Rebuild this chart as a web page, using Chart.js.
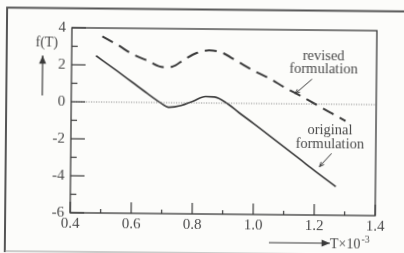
<!DOCTYPE html>
<html>
<head>
<meta charset="utf-8">
<script src="https://cdn.jsdelivr.net/npm/chart.js@4.4.1/dist/chart.umd.min.js"></script>
<style>
  html, body { margin: 0; padding: 0; background: #fcfcfa; overflow: hidden; width: 404px; height: 253px; }
  #wrap { position: absolute; left: -12px; top: -12px; width: 428px; height: 277px;
          transform: rotate(0.55deg); transform-origin: 50% 50%; }
</style>
</head>
<body>
<div id="wrap"><canvas id="chart" width="428" height="277"></canvas></div>
<script>
// original formulation (solid)
const origT = [0.48, 0.55, 0.60, 0.65, 0.69, 0.72, 0.76, 0.80, 0.84, 0.87, 0.91, 0.95, 1.00, 1.05, 1.10, 1.15, 1.20, 1.27];
const origF = [2.5, 1.68, 1.08, 0.48, 0.02, -0.25, -0.15, 0.1, 0.35, 0.33, 0.0, -0.5, -1.1, -1.72, -2.35, -2.97, -3.6, -4.45];
// revised formulation (dashed)
const revT = [0.50, 0.55, 0.60, 0.65, 0.70, 0.73, 0.77, 0.81, 0.85, 0.89, 0.94, 1.00, 1.05, 1.10, 1.15, 1.20, 1.25, 1.30];
const revF = [3.55, 3.1, 2.6, 2.25, 1.92, 1.95, 2.35, 2.7, 2.85, 2.75, 2.3, 1.75, 1.35, 0.88, 0.45, 0.0, -0.45, -0.9];
// axis ranges
const xMin = 0.4, xMax = 1.4;
const yMin = -6, yMax = 4;

const OFF = 12; // canvas is a bit larger than the page so its rotated edges stay hidden
const ink = '#3a3a3a';
const textCol = '#4a4a4a';
const serif = "'Liberation Serif', 'DejaVu Serif', serif";

function pts(xs, ys) {
    return xs.map((x, i) => ({ x: x, y: ys[i] }));
}

function arrowLine(ctx, x1, y1, x2, y2, filled, size) {
    ctx.beginPath();
    ctx.moveTo(x1, y1);
    ctx.lineTo(x2, y2);
    ctx.stroke();
    const a = Math.atan2(y2 - y1, x2 - x1);
    const p1 = [x2 - size * Math.cos(a - 0.4), y2 - size * Math.sin(a - 0.4)];
    const p2 = [x2 - size * Math.cos(a + 0.4), y2 - size * Math.sin(a + 0.4)];
    ctx.beginPath();
    if (filled) {
        ctx.moveTo(x2, y2);
        ctx.lineTo(p1[0], p1[1]);
        ctx.lineTo(p2[0], p2[1]);
        ctx.closePath();
        ctx.fill();
    } else {
        ctx.moveTo(p1[0], p1[1]);
        ctx.lineTo(x2, y2);
        ctx.lineTo(p2[0], p2[1]);
        ctx.stroke();
    }
}

const decor = {
    id: 'decor',
    beforeDraw(chart) {
        const ctx = chart.ctx;
        ctx.save();
        ctx.fillStyle = '#fcfcfa';
        ctx.fillRect(0, 0, chart.width, chart.height);
        // outer frame of the figure
        ctx.strokeStyle = '#555';
        ctx.lineWidth = 2;
        ctx.beginPath();
        ctx.moveTo(OFF + 6, OFF + 254);
        ctx.lineTo(OFF + 6, OFF + 9.5);
        ctx.lineTo(chart.width, OFF + 9.5);
        ctx.stroke();
        ctx.strokeStyle = '#999';
        ctx.lineWidth = 1.2;
        ctx.beginPath();
        ctx.moveTo(OFF + 6, OFF + 253);
        ctx.lineTo(chart.width, OFF + 253);
        ctx.stroke();
        ctx.restore();
    },
    afterDatasetsDraw(chart) {
        const ctx = chart.ctx;
        const a = chart.chartArea;
        const xs = chart.scales.x, ys = chart.scales.y;
        ctx.save();

        // dotted zero line
        ctx.strokeStyle = '#808080';
        ctx.lineWidth = 1;
        ctx.setLineDash([1, 1.5]);
        const y0 = ys.getPixelForValue(0);
        ctx.beginPath();
        ctx.moveTo(a.left, y0);
        ctx.lineTo(a.right, y0);
        ctx.stroke();
        ctx.setLineDash([]);

        // plot box
        ctx.strokeStyle = ink;
        ctx.lineWidth = 1.3;
        ctx.strokeRect(a.left, a.top, a.right - a.left, a.bottom - a.top);

        // inward ticks
        ctx.lineWidth = 1.2;
        for (let v = yMin; v <= yMax; v++) {
            const py = ys.getPixelForValue(v);
            const len = v % 2 === 0 ? 14 : 6;
            ctx.beginPath();
            ctx.moveTo(a.left, py);
            ctx.lineTo(a.left + len, py);
            ctx.stroke();
        }
        for (let k = 4; k <= 14; k++) {
            const px = xs.getPixelForValue(k / 10);
            const len = k % 2 === 0 ? 11 : 4;
            ctx.beginPath();
            ctx.moveTo(px, a.bottom);
            ctx.lineTo(px, a.bottom - len);
            ctx.stroke();
        }

        // annotations
        ctx.fillStyle = textCol;
        ctx.strokeStyle = ink;
        ctx.font = '14.5px ' + serif;
        ctx.textAlign = 'center';
        ctx.textBaseline = 'middle';
        ctx.fillText('revised', xs.getPixelForValue(1.226), ys.getPixelForValue(2.6));
        ctx.fillText('formulation', xs.getPixelForValue(1.226), ys.getPixelForValue(1.88));
        ctx.fillText('original', xs.getPixelForValue(1.249), ys.getPixelForValue(-1.43));
        ctx.fillText('formulation', xs.getPixelForValue(1.249), ys.getPixelForValue(-2.19));
        ctx.lineWidth = 1;
        arrowLine(ctx, xs.getPixelForValue(1.189), ys.getPixelForValue(1.35),
            xs.getPixelForValue(1.134), ys.getPixelForValue(0.55), false, 5);
        arrowLine(ctx, xs.getPixelForValue(1.255), ys.getPixelForValue(-2.66),
            xs.getPixelForValue(1.216), ys.getPixelForValue(-3.38), false, 5);

        // y axis title with arrow
        ctx.font = '14px ' + serif;
        ctx.fillText('f(T)', a.left - 25, OFF + 44);
        ctx.fillStyle = ink;
        ctx.lineWidth = 1.2;
        arrowLine(ctx, a.left - 29, OFF + 97, a.left - 29, OFF + 57, true, 9);

        // x axis title with arrow
        arrowLine(ctx, OFF + 270, OFF + 242, OFF + 331, OFF + 242, true, 9);
        ctx.fillStyle = textCol;
        ctx.textAlign = 'left';
        ctx.textBaseline = 'alphabetic';
        ctx.font = '14px ' + serif;
        ctx.fillText('T\u00d710', OFF + 331, OFF + 247);
        const w = ctx.measureText('T\u00d710').width;
        ctx.font = '10px ' + serif;
        ctx.fillText('-3', OFF + 331 + w + 1, OFF + 241);

        ctx.restore();
    }
};

const ctx = document.getElementById('chart').getContext('2d');

new Chart(ctx, {
    type: 'line',
    data: {
        datasets: [{
            label: 'original formulation',
            data: pts(origT, origF),
            borderColor: ink,
            borderWidth: 1.6,
            pointRadius: 0,
            cubicInterpolationMode: 'monotone',
            fill: false
        }, {
            label: 'revised formulation',
            data: pts(revT, revF),
            borderColor: ink,
            borderWidth: 2,
            borderDash: [12, 7],
            pointRadius: 0,
            cubicInterpolationMode: 'monotone',
            fill: false
        }]
    },
    options: {
        responsive: false,
        animation: false,
        events: [],
        layout: { padding: { left: OFF, top: OFF + 29, right: OFF + 28, bottom: OFF } },
        plugins: { legend: { display: false }, tooltip: { enabled: false } },
        scales: {
            x: {
                type: 'linear',
                min: xMin,
                max: xMax,
                grid: { display: false, drawTicks: false },
                border: { display: false },
                afterFit(s) { s.height = 39; },
                ticks: {
                    stepSize: 0.1,
                    autoSkip: false,
                    maxRotation: 0,
                    padding: 2,
                    color: textCol,
                    font: { family: serif, size: 15 },
                    callback: v => (Math.round(v * 10) % 2 === 0 ? v.toFixed(1) : '')
                }
            },
            y: {
                min: yMin,
                max: yMax,
                grid: { display: false, drawTicks: false },
                border: { display: false },
                afterFit(s) { s.width = 71; },
                ticks: {
                    stepSize: 1,
                    autoSkip: false,
                    padding: 6,
                    color: textCol,
                    font: { family: serif, size: 15 },
                    callback: v => (v % 2 === 0 ? String(v) : '')
                }
            }
        }
    },
    plugins: [decor]
});
</script>
</body>
</html>
